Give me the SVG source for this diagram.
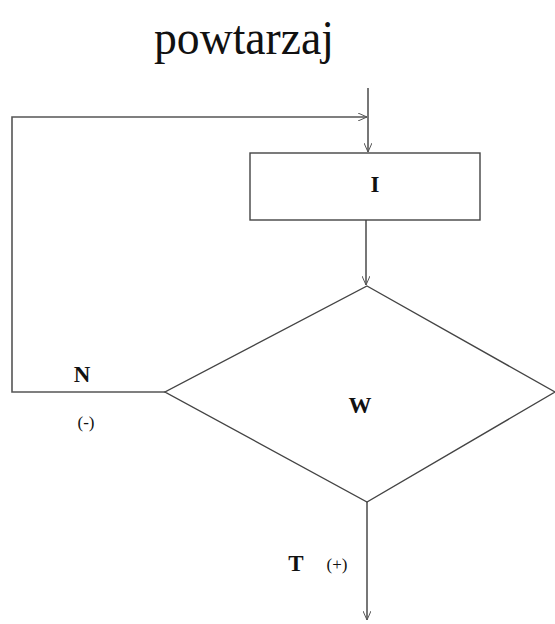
<svg xmlns="http://www.w3.org/2000/svg" width="555" height="624" viewBox="0 0 555 624">
<defs>
<marker id="arr" markerWidth="10" markerHeight="8" refX="9" refY="4" orient="auto" markerUnits="userSpaceOnUse">
<path d="M0,0 L9,4 L0,8" fill="none" stroke="#555" stroke-width="1"/>
</marker>
<style>
.ln{fill:none;stroke:#555;stroke-width:1.6}
.sh{fill:#fff;stroke:#444;stroke-width:1.4}
.t{font-family:"Liberation Serif",serif;fill:#111}
.b{font-weight:bold;font-size:23px}
.s{font-size:17px}
</style>
</defs>
<rect width="555" height="624" fill="#fff"/>
<text class="t" x="244" y="54" font-size="48" text-anchor="middle" textLength="180" lengthAdjust="spacingAndGlyphs">powtarzaj</text>
<g id="connectors">
<line class="ln" x1="368" y1="88" x2="368" y2="152" marker-end="url(#arr)"/>
<line class="ln" x1="366" y1="220" x2="366" y2="285" marker-end="url(#arr)"/>
<polyline class="ln" points="165,392 12,392 12,117 367,117" marker-end="url(#arr)"/>
<line class="ln" x1="367" y1="502" x2="367" y2="620" marker-end="url(#arr)"/>
</g>
<g id="node-I">
<rect class="sh" x="250" y="153" width="230" height="67"/>
<text class="t b" x="375" y="192" text-anchor="middle">I</text>
</g>
<g id="node-W">
<polygon class="sh" points="367,286 555,392 367,502 165,392"/>
<text class="t b" x="360" y="413" text-anchor="middle">W</text>
</g>
<g id="labels">
<text class="t b" x="82" y="382" text-anchor="middle">N</text>
<text class="t s" x="86" y="428" text-anchor="middle">(-)</text>
<text class="t b" x="296" y="571" text-anchor="middle">T</text>
<text class="t s" x="337" y="570" text-anchor="middle">(+)</text>
</g>
</svg>
